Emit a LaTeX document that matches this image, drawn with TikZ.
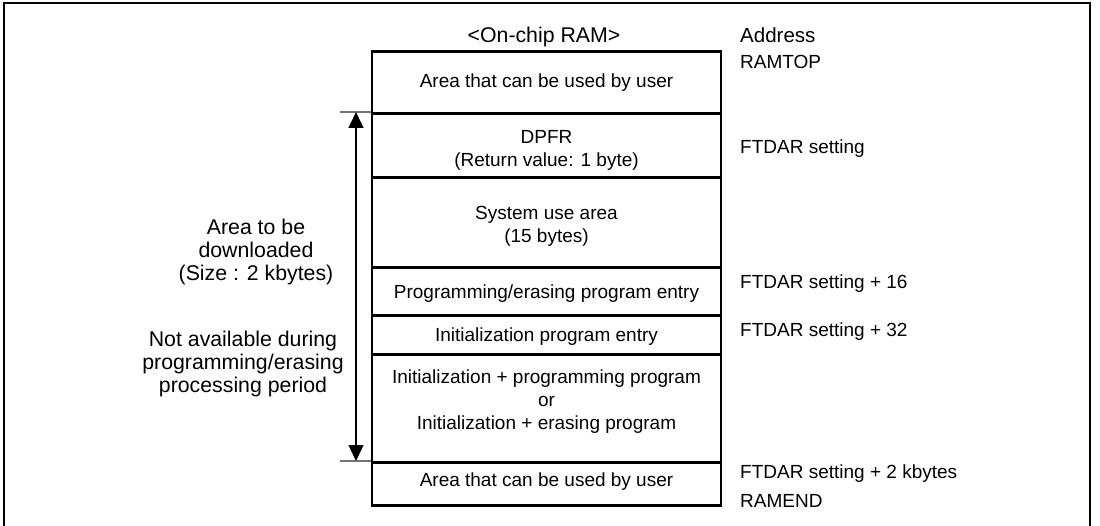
\documentclass[tikz,border=0pt]{standalone}
\usepackage{fontspec}
\setmainfont{Liberation Sans}
\usetikzlibrary{arrows.meta}
\begin{document}
\begin{tikzpicture}[x=1pt,y=-1pt,
  txt/.style={font=\fontsize{19}{23}\selectfont, inner sep=0pt, align=center},
  bigtxt/.style={font=\fontsize{21.3}{23}\selectfont, inner sep=0pt, align=center},
  lbl/.style={font=\fontsize{19}{23}\selectfont, inner sep=0pt, anchor=west},
  ram/.style={draw, line width=2.6pt, minimum width=349pt, inner sep=0pt, anchor=north},
  tickline/.style={draw=black!55, line width=2pt},
  dimarrow/.style={line width=1.3pt, {Triangle[width=15pt,length=16pt]}-{Triangle[width=15pt,length=16pt]}}
]
\useasboundingbox (0,0) rectangle (1100,526);
\draw[line width=2pt] (3.5,530) -- (3.5,3.5) -- (1090,3.5) -- (1090,530);

% RAM blocks
\node[ram, minimum height=62pt]  (b1) at (546.5,50)  {};
\node[ram, minimum height=64pt]  (b2) at (546.5,112) {};
\node[ram, minimum height=90pt]  (b3) at (546.5,176) {};
\node[ram, minimum height=48pt]  (b4) at (546.5,266) {};
\node[ram, minimum height=39pt]  (b5) at (546.5,314) {};
\node[ram, minimum height=108pt] (b6) at (546.5,353) {};
\node[ram, minimum height=43pt]  (b7) at (546.5,461) {};

% block texts
\node[bigtxt] (t0) at (544,37) {<On-chip RAM>};
\node[txt] (t1) at (546.5,83) {Area that can be used by user};
\node[txt] (t2) at (546.5,150) {DPFR\\(Return value: 1 byte)};
\node[txt] (t3) at (546.5,226) {System use area\\(15 bytes)};
\node[txt] (t4) at (546.5,294) {Programming/erasing program entry};
\node[txt] (t5) at (546.5,337) {Initialization program entry};
\node[txt] (t6) at (546.5,402) {Initialization + programming program\\or\\Initialization + erasing program};
\node[txt] (t7) at (546.5,482) {Area that can be used by user};

% address labels
\node[lbl, font=\fontsize{20.5}{23}\selectfont] (a0) at (740,35) {Address};
\node[lbl] (a1) at (740,62) {RAMTOP};
\node[lbl] (a2) at (740,149) {FTDAR setting};
\node[lbl] (a3) at (740,284) {FTDAR setting + 16};
\node[lbl] (a4) at (740,332) {FTDAR setting + 32};
\node[lbl] (a5) at (740,474) {FTDAR setting + 2 kbytes};
\node[lbl] (a6) at (740,501) {RAMEND};

% left texts
\node[bigtxt] (l1) at (256,252) {Area to be\\downloaded\\(Size : 2 kbytes)};
\node[bigtxt] (l2) at (243,364) {Not available during\\programming/erasing\\processing period};

% dimension arrow
\coordinate (k1) at (340,112);
\coordinate (k2) at (340,461);
\coordinate (d1) at (356,112);
\coordinate (d2) at (356,461);
\draw[tickline] (k1) -- (b2.north west);
\draw[tickline] (k2) -- (b7.north west);
\draw[dimarrow] (d1) -- (d2);
\end{tikzpicture}
\end{document}
